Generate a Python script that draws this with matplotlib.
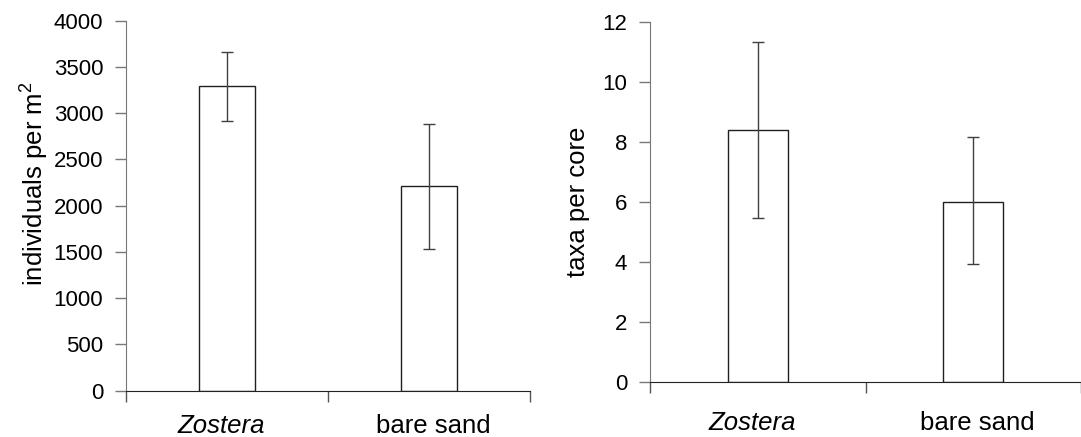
import numpy as np
import matplotlib
matplotlib.use("Agg")
import matplotlib.pyplot as plt
import matplotlib.transforms as mtransforms

plt.rcParams['font.family'] = ['Liberation Sans', 'DejaVu Sans']
plt.rcParams['mathtext.fontset'] = 'custom'
plt.rcParams['mathtext.rm'] = 'Liberation Sans'

categories = ["Zostera", "bare sand"]

# individuals per m2
dens_mean = [3290, 2210]
dens_low = [2912, 1532]
dens_high = [3658, 2880]

# taxa per core
taxa_mean = [8.41, 6.01]
taxa_low = [5.48, 3.92]
taxa_high = [11.34, 8.16]


def draw(ax, mean, low, high, ymax, ystep, ylabel, labelpad, xpad, label_y):
    x = np.arange(len(categories)) + 0.5
    mean = np.array(mean)
    yerr = [mean - np.array(low), np.array(high) - mean]
    ax.bar(x, mean, width=0.28, color='white', edgecolor='#202020', linewidth=1.0, zorder=2)
    ax.errorbar(x, mean, yerr=yerr, fmt='none', ecolor='#404040', elinewidth=1.0,
                capsize=4, capthick=1.0, zorder=3)
    ax.set_xlim(0, len(categories))
    ax.set_ylim(0, ymax)
    ax.set_yticks(np.arange(0, ymax + ystep / 2, ystep))
    ax.set_xticks(np.arange(len(categories) + 1))
    ax.set_xticklabels([])
    ax.set_xticks(x, minor=True)
    ax.set_xticklabels(categories, minor=True)
    ax.tick_params(axis='x', which='minor', length=0, pad=xpad, labelsize=18.5)
    ax.tick_params(axis='x', which='major', length=8, direction='out', color='#555555', width=1)
    ax.tick_params(axis='y', length=8, direction='out', color='#777777', width=1, labelsize=16, pad=8.5)
    # slight horizontal nudges of category labels, as in the original layout
    labels = ax.get_xticklabels(minor=True)
    labels[0].set_style('italic')
    for lab, dx in zip(labels, [-4, 3]):
        lab.set_transform(lab.get_transform() +
                          mtransforms.ScaledTranslation(dx / 72, 0, ax.figure.dpi_scale_trans))
    for s in ['top', 'right']:
        ax.spines[s].set_visible(False)
    ax.spines['left'].set_color('#777777')
    ax.spines['bottom'].set_color('#222222')
    ax.set_ylabel(ylabel, fontsize=18.5, labelpad=labelpad, y=label_y)


fig = plt.figure(figsize=(10.81, 4.37), dpi=100)
ax1 = fig.add_axes([0.1166, 0.106, 0.3737, 0.8467])
ax2 = fig.add_axes([0.6013, 0.1265, 0.3987, 0.8224])

draw(ax1, dens_mean, dens_low, dens_high, 4000, 500, "individuals per m$^{2}$", 2.5, 17, 0.56)
draw(ax2, taxa_mean, taxa_low, taxa_high, 12, 2, "taxa per core", 9, 21, 0.5)

fig.savefig("out.png", dpi=100)
